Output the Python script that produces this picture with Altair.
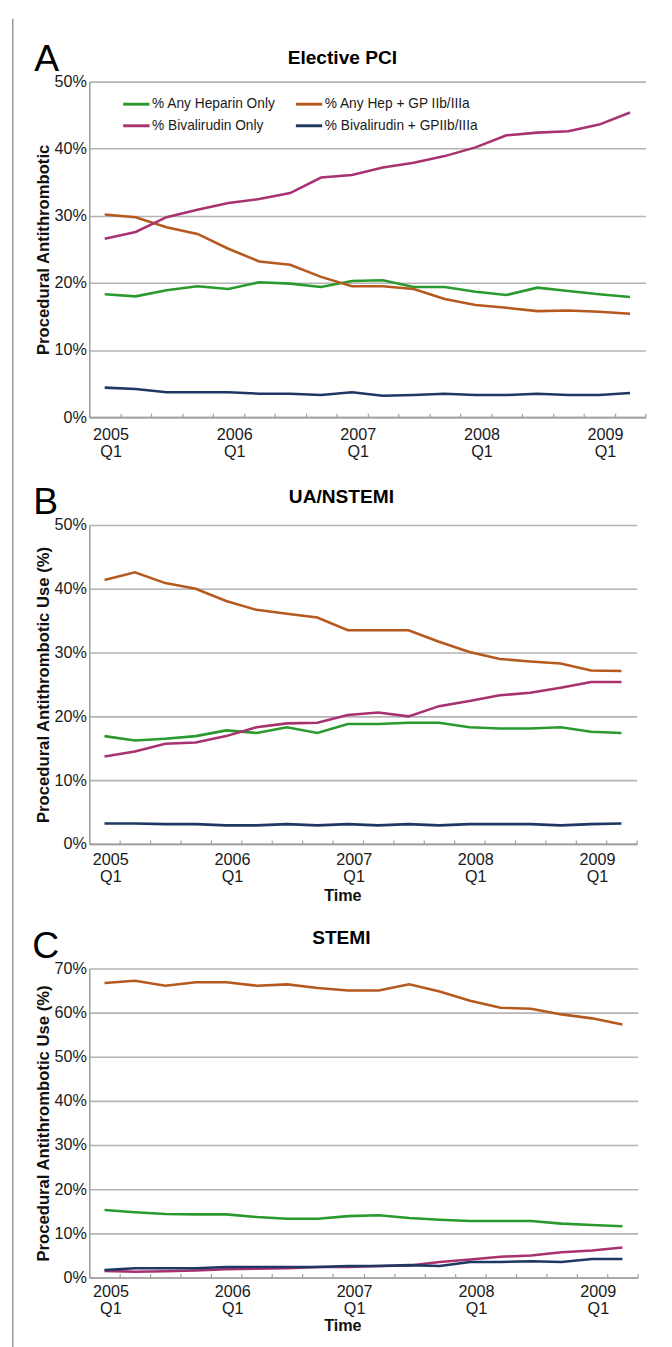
import json
import altair as alt
import pandas as pd

# ---------------- data ----------------
quarters = [
    "2005 Q1", "2005 Q2", "2005 Q3", "2005 Q4",
    "2006 Q1", "2006 Q2", "2006 Q3", "2006 Q4",
    "2007 Q1", "2007 Q2", "2007 Q3", "2007 Q4",
    "2008 Q1", "2008 Q2", "2008 Q3", "2008 Q4",
    "2009 Q1", "2009 Q2",
]
series = [
    "% Any Heparin Only",
    "% Any Hep + GP IIb/IIIa",
    "% Bivalirudin Only",
    "% Bivalirudin + GPIIb/IIIa",
]
colors = ["#2a9a2e", "#b5591f", "#a8326f", "#1f3763"]

# Panel A - Elective PCI
a_heparin = [18.3, 18.0, 18.9, 19.5, 19.1, 20.1, 19.9, 19.4, 20.3, 20.4, 19.4, 19.4, 18.7, 18.2, 19.3, 18.8, 18.3, 17.9]
a_hep_gp = [30.2, 29.8, 28.3, 27.3, 25.1, 23.2, 22.7, 20.9, 19.5, 19.5, 19.1, 17.6, 16.7, 16.3, 15.8, 15.9, 15.7, 15.4]
a_biv = [26.6, 27.6, 29.8, 30.9, 31.9, 32.5, 33.4, 35.7, 36.1, 37.2, 37.9, 38.9, 40.2, 42.0, 42.4, 42.6, 43.6, 45.4]
a_biv_gp = [4.4, 4.2, 3.7, 3.7, 3.7, 3.5, 3.5, 3.3, 3.7, 3.2, 3.3, 3.5, 3.3, 3.3, 3.5, 3.3, 3.3, 3.6]

# Panel B - UA/NSTEMI
b_heparin = [16.9, 16.2, 16.5, 16.9, 17.8, 17.4, 18.3, 17.4, 18.8, 18.8, 19.0, 19.0, 18.3, 18.1, 18.1, 18.3, 17.6, 17.4]
b_hep_gp = [41.4, 42.6, 40.9, 40.0, 38.1, 36.7, 36.1, 35.5, 33.5, 33.5, 33.5, 31.7, 30.1, 29.0, 28.6, 28.3, 27.2, 27.1]
b_biv = [13.7, 14.5, 15.7, 15.9, 16.9, 18.3, 18.9, 19.0, 20.2, 20.6, 20.0, 21.6, 22.4, 23.3, 23.7, 24.5, 25.4, 25.4]
b_biv_gp = [3.2, 3.2, 3.1, 3.1, 2.9, 2.9, 3.1, 2.9, 3.1, 2.9, 3.1, 2.9, 3.1, 3.1, 3.1, 2.9, 3.1, 3.2]

# Panel C - STEMI
c_heparin = [15.3, 14.8, 14.4, 14.3, 14.3, 13.7, 13.3, 13.3, 13.9, 14.1, 13.5, 13.1, 12.8, 12.8, 12.8, 12.2, 11.9, 11.6]
c_hep_gp = [66.7, 67.2, 66.1, 66.9, 66.9, 66.1, 66.4, 65.6, 65.0, 65.0, 66.4, 64.8, 62.7, 61.1, 60.9, 59.6, 58.7, 57.3]
c_biv = [1.5, 1.3, 1.4, 1.6, 1.9, 2.0, 2.1, 2.4, 2.4, 2.6, 2.7, 3.5, 4.1, 4.7, 5.0, 5.7, 6.1, 6.8]
c_biv_gp = [1.7, 2.1, 2.1, 2.1, 2.4, 2.4, 2.4, 2.4, 2.6, 2.6, 2.8, 2.6, 3.5, 3.5, 3.7, 3.5, 4.2, 4.2]

panel_titles = ["Elective PCI", "UA/NSTEMI", "STEMI"]
panel_letters = ["A", "B", "C"]
y_titles = ["Procedural Antithrombotic",
            "Procedural Antithrombotic Use (%)",
            "Procedural Antithrombotic Use (%)"]
x_title = "Time"

FONT = "Liberation Sans"
GRID = "#b4b4b4"
DOMAIN = "#a0a0a0"

tick_values = [i - 0.5 for i in range(len(quarters) + 1)]
label_list = [q.split(" ") if q.endswith("Q1") else "" for q in quarters] + [""]
label_expr = f"{json.dumps(label_list)}[round(datum.value + 0.5)]"


def make_df(vals):
    rows = []
    for s, v in zip(series, vals):
        for i, val in enumerate(v):
            rows.append({"idx": i, "quarter": quarters[i], "series": s, "value": val})
    return pd.DataFrame(rows)


def panel(vals, k, width, height, ymax, label_pad, show_legend, show_xtitle,
          xtitle_y, letter_pos, title_pos, rule=None):
    df = make_df(vals)
    half = width / len(quarters) / 2
    x_axis = alt.Axis(
        values=tick_values, labelExpr=label_expr, labelOffset=half + 6,
        labelFlush=False, labelOverlap=False, labelBaseline="top",
        labelLineHeight=17.5, labelFontSize=16.5, labelColor="#1a1a1a",
        labelPadding=label_pad, tickSize=alt.ExprRef(expr="-4"),
        tickColor=DOMAIN, tickWidth=1.2, domainColor=DOMAIN, domainWidth=1.6,
        grid=False,
        title=x_title if show_xtitle else None,
        titleFontSize=16.5, titleFontWeight="bold", titleColor="#111",
        titleX=258, titleY=xtitle_y, titleBaseline="middle", titleAlign="center",
    )
    y_axis = alt.Axis(
        values=list(range(0, ymax + 1, 10)), labelExpr="datum.value + '%'",
        labelFontSize=16.5, labelColor="#1a1a1a", labelPadding=3, ticks=False,
        grid=True, gridColor=GRID, gridWidth=1.6,
        domainColor=DOMAIN, domainWidth=1.6,
        title=y_titles[k], titleFontSize=17, titleFontWeight="bold",
        titleColor="#111", titlePadding=2,
    )
    if show_legend:
        legend = alt.Legend(
            orient="none", legendX=33, legendY=8, columns=2, direction="horizontal",
            title=None, symbolType="stroke", symbolStrokeWidth=3, symbolSize=720,
            labelFontSize=14, labelColor="#1a1a1a", labelOffset=1,
            columnPadding=13, rowPadding=0, padding=0, labelLimit=300,
        )
    else:
        legend = None
    lines = alt.Chart(df).mark_line(strokeWidth=2.6).encode(
        x=alt.X("idx:Q", scale=alt.Scale(domain=[-0.5, len(quarters) - 0.5], nice=False, zero=False),
                axis=x_axis),
        y=alt.Y("value:Q", scale=alt.Scale(domain=[0, ymax], nice=False), axis=y_axis),
        color=alt.Color("series:N", scale=alt.Scale(domain=series, range=colors),
                        legend=legend, sort=series),
        detail="series:N",
    )
    letter = alt.Chart(pd.DataFrame({"t": [panel_letters[k]]})).mark_text(
        font=FONT, fontSize=38, align="left", baseline="alphabetic", color="#000"
    ).encode(text="t:N", x=alt.value(letter_pos[0]), y=alt.value(letter_pos[1]))
    title = alt.Chart(pd.DataFrame({"t": [panel_titles[k]]})).mark_text(
        font=FONT, fontSize=19.5, fontWeight="bold", align="center",
        baseline="alphabetic", color="#000"
    ).encode(text="t:N", x=alt.value(title_pos[0]), y=alt.value(title_pos[1]))
    layers = [lines, letter, title]
    if rule is not None:
        border = alt.Chart(pd.DataFrame({"t": ["border"]})).mark_rule(
            color="#9a9a9a", strokeWidth=1.5
        ).encode(x=alt.value(rule[0]), y=alt.value(rule[1]), y2=alt.value(rule[2]))
        layers.insert(0, border)
    return alt.layer(*layers).properties(width=width, height=height)


def spacer(h):
    return alt.Chart(pd.DataFrame({"v": [0]})).mark_point(opacity=0).encode(
        x=alt.value(0), y=alt.value(0)
    ).properties(width=10, height=h)


pA = panel([a_heparin, a_hep_gp, a_biv, a_biv_gp], 0, 567, 342, 50, 14, True, False, 50,
           (-56, -11), (258, -18), rule=(-78, -64, 1295))
pB = panel([b_heparin, b_hep_gp, b_biv, b_biv_gp], 1, 558, 325, 50, 12, False, True, 53,
           (-57, -11), (257, -22))
pC = panel([c_heparin, c_hep_gp, c_biv, c_biv_gp], 2, 559, 315, 70, 10, False, True, 49,
           (-58, -11), (257, -25))

chart = alt.vconcat(pA, spacer(110), pB, spacer(127), pC, spacing=0, bounds="flush").resolve_scale(
    x="independent", y="independent", color="independent"
).properties(
    padding={"left": 12, "top": 5, "right": 5, "bottom": 0},
    background="white",
).configure(font=FONT, view=alt.ViewConfig(stroke=None))

chart.save("out.html", embed_options={"renderer": "svg", "actions": False})
